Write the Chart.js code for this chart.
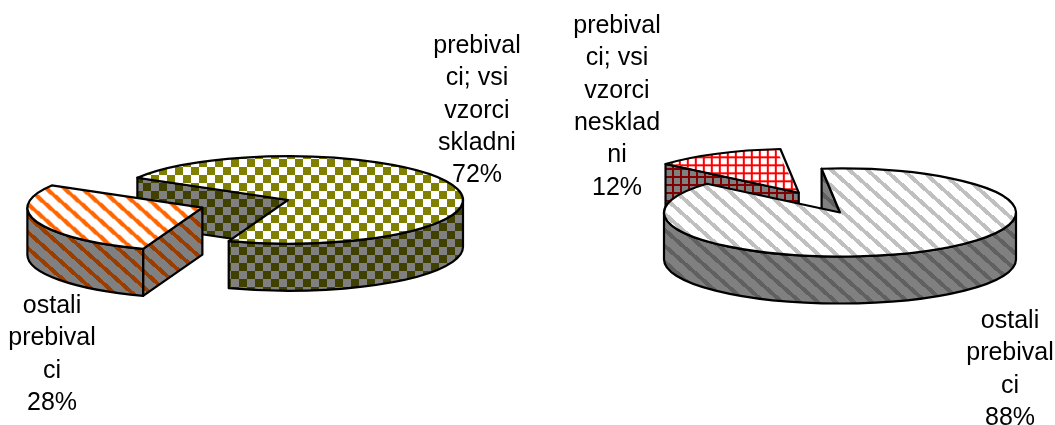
<!DOCTYPE html>
<html>
<head>
<meta charset="utf-8">
<script src="https://cdn.jsdelivr.net/npm/chart.js@4"></script>
<style>
    html, body { margin: 0; background: #fff; overflow: hidden; }
    canvas { position: absolute; left: 0; top: 0; }
</style>
</head>
<body>
<canvas id="pieLeft" width="1055" height="425"></canvas>
<canvas id="pieRight" width="1055" height="425"></canvas>
<script>
// left pie
var leftCategories = [
    ["prebival", "ci; vsi", "vzorci", "skladni"],
    ["ostali", "prebival", "ci"]
];
var leftValues = [72, 28];

// right pie, the small slice goes first so the big one paints over its wall
var rightCategories = [
    ["prebival", "ci; vsi", "vzorci", "nesklad", "ni"],
    ["ostali", "prebival", "ci"]
];
var rightValues = [12, 88];

var squash = 0.25;   // height / width of the pie top
var depth = 47;      // wall height in px
var lineHeight = 32.3;

function tile(w, h, fg, bg, isFg) {
    var c = document.createElement('canvas');
    c.width = w;
    c.height = h;
    var g = c.getContext('2d');
    g.fillStyle = bg;
    g.fillRect(0, 0, w, h);
    g.fillStyle = fg;
    for (var y = 0; y < h; y++) {
        for (var x = 0; x < w; x++) {
            if (isFg(x, y)) g.fillRect(x, y, 1, 1);
        }
    }
    return g.createPattern(c, 'repeat');
}

function checker(fg, bg) {
    return tile(16, 16, fg, bg, function (x, y) {
        return (Math.floor((x + 1) / 8) + Math.floor((y + 1) / 8)) % 2 === 1;
    });
}

function stripes(fg, bg, phase) {
    return tile(18, 16, fg, bg, function (x, y) {
        var t = x / 18 - y / 16 - phase;
        return t - Math.floor(t) < 6 / 18;
    });
}

function grid(fg, bg) {
    return tile(8, 8, fg, bg, function (x, y) {
        return x < 2 || y < 2;
    });
}

// ArcElement.draw moves a slice by offset / 4 and also widens it,
// so the element radius is reduced to keep the drawn radius fixed
function sliceCentre(chart, arc) {
    var p = arc.getProps(['x', 'y', 'startAngle', 'endAngle', 'circumference'], true);
    var shift = (arc.options.offset || 0) / 4;
    var half = (p.startAngle + p.endAngle) / 2;
    var fix = 1 - Math.sin(Math.min(Math.PI, p.circumference || 0));
    return {
        x: p.x + Math.cos(half) * shift,
        y: p.y + Math.sin(half) * shift * squash,
        r: chart.options.radius,
        widen: shift * fix,
        start: p.startAngle,
        end: p.endAngle
    };
}

function rimX(s, a) { return s.x + s.r * Math.cos(a); }
function rimY(s, a) { return s.y + s.r * squash * Math.sin(a); }

function radialWall(ctx, s, a) {
    ctx.beginPath();
    ctx.moveTo(s.x, s.y);
    ctx.lineTo(rimX(s, a), rimY(s, a));
    ctx.lineTo(rimX(s, a), rimY(s, a) + depth);
    ctx.lineTo(s.x, s.y + depth);
    ctx.closePath();
    ctx.fill();
    ctx.stroke();
}

function outerWall(ctx, s) {
    var ry = s.r * squash;
    // only the half of the rim that faces the viewer
    for (var k = -2; k <= 2; k++) {
        var a0 = Math.max(s.start, k * 2 * Math.PI);
        var a1 = Math.min(s.end, k * 2 * Math.PI + Math.PI);
        if (a1 <= a0) continue;
        ctx.beginPath();
        ctx.ellipse(s.x, s.y, s.r, ry, 0, a0, a1, false);
        ctx.lineTo(rimX(s, a1), rimY(s, a1) + depth);
        ctx.ellipse(s.x, s.y + depth, s.r, ry, 0, a1, a0, true);
        ctx.closePath();
        ctx.fill();
        ctx.stroke();
    }
}

var pie3d = {
    id: 'pie3d',
    beforeDatasetsDraw: function (chart) {
        var ctx = chart.ctx;
        var meta = chart.getDatasetMeta(0);
        var walls = chart.data.datasets[0].wallPatterns;
        var cy = meta.data[0].y;

        ctx.save();
        ctx.lineWidth = 2.2;
        ctx.lineJoin = 'round';
        ctx.strokeStyle = '#000';
        meta.data.forEach(function (arc, i) {
            var s = sliceCentre(chart, arc);
            arc.outerRadius = s.r - s.widen;
            ctx.fillStyle = walls[i];
            // a cut face shows only if its outward normal points down the screen
            if (Math.sin(s.start - Math.PI / 2) > 0) radialWall(ctx, s, s.start);
            if (Math.sin(s.end + Math.PI / 2) > 0) radialWall(ctx, s, s.end);
            outerWall(ctx, s);
        });
        ctx.restore();

        // flatten the library's circle; the fill patterns are counter-scaled
        var inverse = new DOMMatrix([1, 0, 0, 1 / squash, 0, cy - cy / squash]);
        chart.data.datasets[0].backgroundColor.forEach(function (p) { p.setTransform(inverse); });
        ctx.save();
        ctx.translate(0, cy);
        ctx.scale(1, squash);
        ctx.translate(0, -cy);
    },
    afterDatasetsDraw: function (chart) {
        var ctx = chart.ctx;
        ctx.restore();

        ctx.save();
        ctx.lineWidth = 2.2;
        ctx.lineJoin = 'round';
        ctx.strokeStyle = '#000';
        chart.getDatasetMeta(0).data.forEach(function (arc) {
            var s = sliceCentre(chart, arc);
            ctx.beginPath();
            ctx.moveTo(s.x, s.y);
            ctx.ellipse(s.x, s.y, s.r, s.r * squash, 0, s.start, s.end, false);
            ctx.closePath();
            ctx.stroke();
        });
        ctx.restore();
    },
    afterDraw: function (chart) {
        var ctx = chart.ctx;
        var ds = chart.data.datasets[0];
        ctx.save();
        ctx.font = '25px "Liberation Sans"';
        ctx.fillStyle = '#000';
        ctx.textAlign = 'center';
        ctx.textBaseline = 'alphabetic';
        chart.data.labels.forEach(function (lines, i) {
            var all = lines.concat(ds.data[i] + '%');
            var spot = ds.labelSpots[i];
            all.forEach(function (line, n) {
                ctx.fillText(line, spot[0], spot[1] + n * lineHeight);
            });
        });
        ctx.restore();
    }
};

function renderPie(id, labels, values, opts) {
    var ctx = document.getElementById(id).getContext('2d');
    return new Chart(ctx, {
        type: 'pie',
        plugins: [pie3d],
        data: {
            labels: labels,
            datasets: [{
                data: values,
                backgroundColor: opts.tops,
                wallPatterns: opts.walls,
                labelSpots: opts.labelSpots,
                offset: opts.offsets,
                borderWidth: 0
            }]
        },
        options: {
            responsive: false,
            animation: false,
            events: [],
            rotation: opts.rotation,
            radius: opts.radius,
            layout: { padding: opts.padding },
            plugins: { legend: { display: false }, tooltip: { enabled: false } }
        }
    });
}

renderPie('pieLeft', leftCategories, leftValues, {
    rotation: 300.6,
    radius: 175,
    padding: { right: 479, bottom: 25 },
    offsets: [0, 364],
    tops: [checker('#808000', '#ffffff'), stripes('#ff6600', '#ffffff', -0.125)],
    walls: [checker('#404000', '#808080'), stripes('#993d00', '#808080', -0.125)],
    labelSpots: [[477, 53], [52, 313]]
});

renderPie('pieRight', rightCategories, rightValues, {
    rotation: 310.8,
    radius: 176,
    padding: { left: 625 },
    offsets: [356, 0],
    tops: [grid('#ff0000', '#ffffff'), stripes('#c0c0c0', '#ffffff', 0.4)],
    walls: [grid('#800000', '#808080'), stripes('#606060', '#808080', 0.4)],
    labelSpots: [[617, 33], [1010, 328]]
});
</script>
</body>
</html>
